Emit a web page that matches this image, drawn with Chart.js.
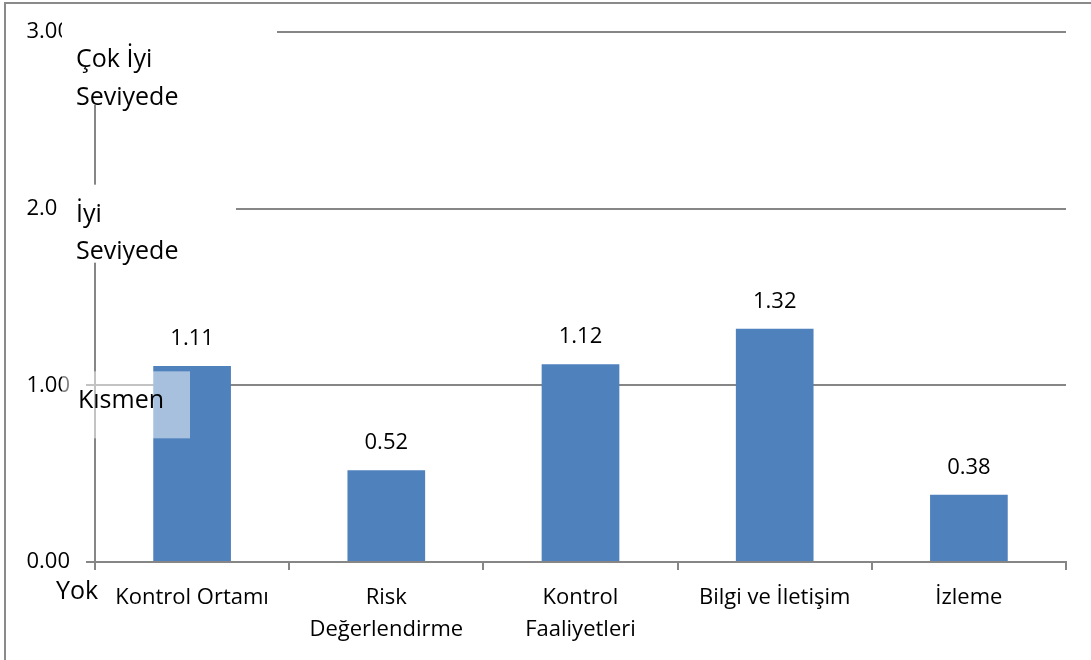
<!DOCTYPE html>
<html lang="tr">
<head>
<meta charset="utf-8">
<script src="https://cdn.jsdelivr.net/npm/chart.js@4.4.1/dist/chart.umd.min.js"></script>
<style>
  html, body { margin: 0; padding: 0; background: #ffffff; }
  #wrap { position: relative; width: 1091px; height: 660px; }
  canvas { display: block; }
</style>
</head>
<body>
<div id="wrap"><canvas id="c" width="1091" height="660"></canvas></div>
<script>
// İç kontrol bileşenleri ve ortalama puanları
const categories = [
  'Kontrol Ortamı',
  ['Risk', 'Değerlendirme'],
  ['Kontrol', 'Faaliyetleri'],
  'Bilgi ve İletişim',
  'İzleme'
];
const scores = [1.11, 0.52, 1.12, 1.32, 0.38];
const yTicks = [0, 1, 2, 3];

const FONT = '"Open Sans", "Noto Sans", sans-serif';
const FSIZE = 22;      // eksen ve değer etiketleri
const LSIZE = 25;      // seviye etiketleri
const GRID = '#868686';
const BAR = '#4F81BD';

// Çerçeve, seviye kutuları ve değer etiketleri
const overlay = {
  id: 'overlay',
  beforeDraw(chart) {
    const ctx = chart.ctx;
    ctx.save();
    ctx.fillStyle = '#ffffff';
    ctx.fillRect(0, 0, chart.width, chart.height);
    ctx.strokeStyle = '#8a8a8a';
    ctx.lineWidth = 2;
    ctx.beginPath();
    ctx.moveTo(5, chart.height);
    ctx.lineTo(5, 3);
    ctx.lineTo(chart.width, 3);
    ctx.stroke();
    ctx.restore();
  },
  afterDraw(chart) {
    const ctx = chart.ctx;
    const y = chart.scales.y;
    ctx.save();
    ctx.textBaseline = 'middle';
    ctx.textAlign = 'left';

    const p3 = y.getPixelForValue(3);
    const p2 = y.getPixelForValue(2);
    const p1 = y.getPixelForValue(1);
    const p0 = y.getPixelForValue(0);

    // Seviye kutuları
    ctx.fillStyle = '#ffffff';
    ctx.fillRect(62, p3 - 14, 215, 87);
    ctx.fillRect(58, p2 - 24, 178, 78);
    ctx.fillStyle = 'rgba(255,255,255,0.5)';
    ctx.fillRect(62, p1 - 14, 128, 67);

    // Seviye etiketleri
    ctx.font = LSIZE + 'px ' + FONT;
    ctx.fillStyle = '#000000';
    ctx.fillText('Çok İyi', 76, p3 + 28);
    ctx.fillText('Seviyede', 76, p3 + 66);
    ctx.fillText('İyi', 76, p2 + 6);
    ctx.fillText('Seviyede', 76, p2 + 43);
    ctx.fillText('Kısmen', 78, p1 + 16);
    ctx.fillText('Yok', 56, p0 + 30);

    // Değer etiketleri
    ctx.font = FSIZE + 'px ' + FONT;
    ctx.textAlign = 'center';
    const meta = chart.getDatasetMeta(0);
    meta.data.forEach((bar, i) => {
      ctx.fillText(scores[i].toFixed(2), bar.x, bar.y - 27);
    });
    ctx.restore();
  }
};

new Chart(document.getElementById('c'), {
  type: 'bar',
  data: {
    labels: categories,
    datasets: [{
      data: scores,
      backgroundColor: BAR,
      borderWidth: 0,
      categoryPercentage: 1.0,
      barPercentage: 0.4
    }]
  },
  options: {
    responsive: false,
    animation: false,
    devicePixelRatio: 1,
    layout: { padding: { top: 32, right: 25, left: 0, bottom: 0 } },
    plugins: { legend: { display: false }, tooltip: { enabled: false } },
    scales: {
      x: {
        grid: { drawOnChartArea: false, drawTicks: true, tickLength: 8, color: GRID, lineWidth: 2 },
        border: { color: GRID, width: 2 },
        ticks: { color: '#000000', font: { family: FONT, size: FSIZE, lineHeight: 1.45 }, padding: 12, maxRotation: 0, autoSkip: false },
        afterFit(scale) { scale.height = 98; }
      },
      y: {
        min: 0,
        max: 3,
        afterBuildTicks(scale) { scale.ticks = yTicks.map(v => ({ value: v })); },
        grid: { color: GRID, lineWidth: 2, tickLength: 9 },
        border: { color: GRID, width: 2 },
        ticks: {
          color: '#000000',
          font: { family: FONT, size: FSIZE },
          padding: 16,
          callback: v => Number(v).toFixed(2)
        },
        afterFit(scale) { scale.width = 95; }
      }
    }
  },
  plugins: [overlay]
});
</script>
</body>
</html>
